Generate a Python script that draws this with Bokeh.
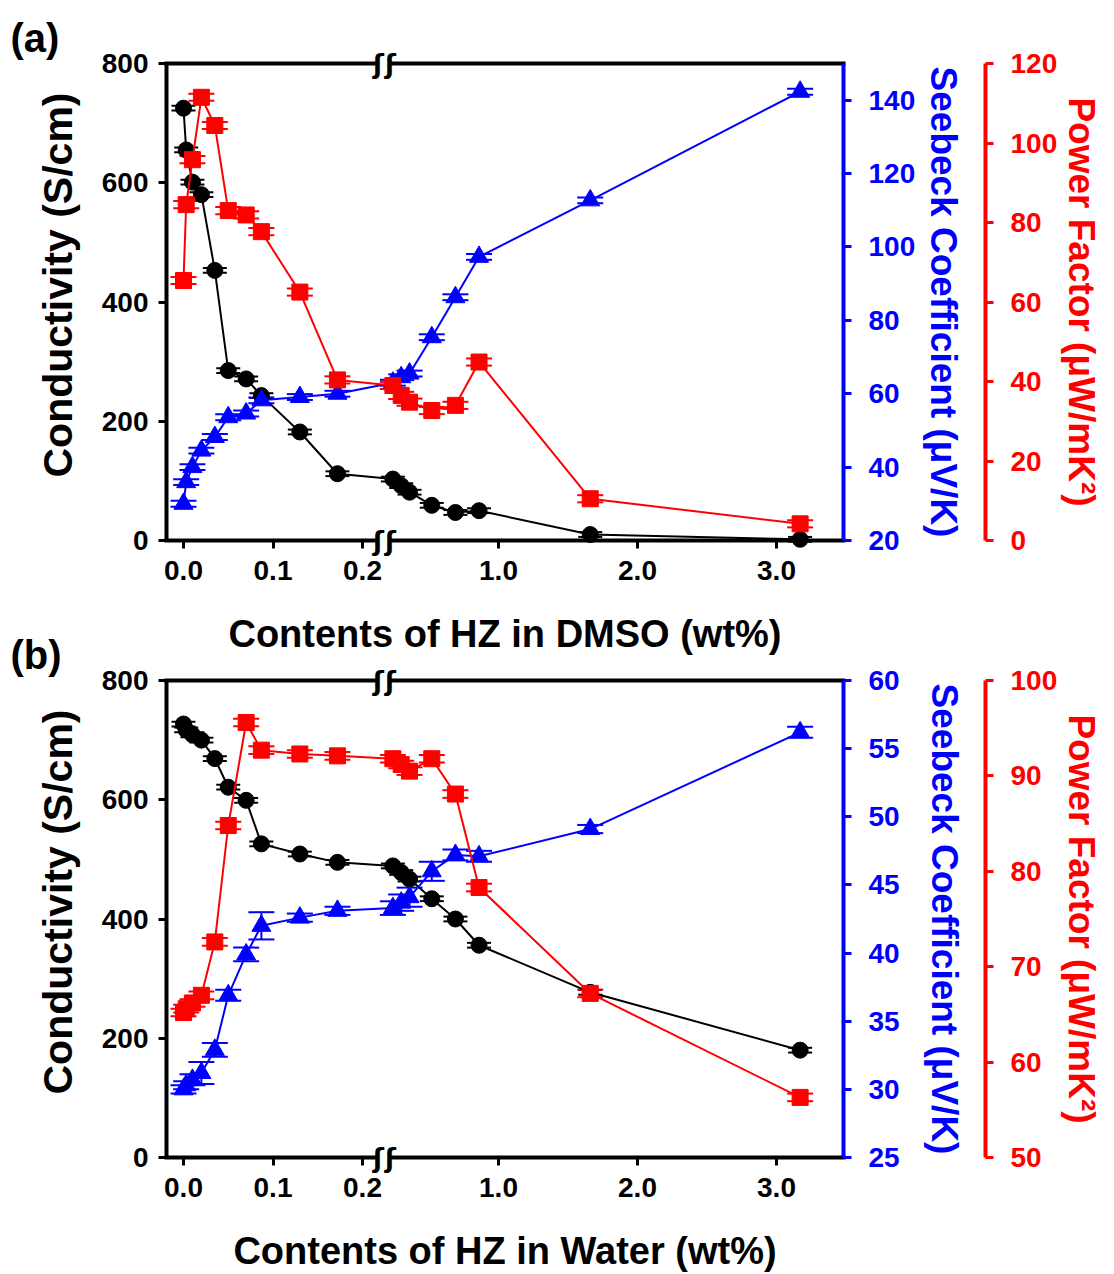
from bokeh.plotting import figure
from bokeh.models import (LinearAxis, Range1d, FixedTicker, Whisker, ColumnDataSource,
                          TeeHead, Label)
from bokeh.layouts import column
from bokeh.embed import file_html
from bokeh.resources import INLINE

# ---------------- data (wt% of HZ) ----------------
X_WT = [0.0, 0.003, 0.01, 0.02, 0.035, 0.05, 0.07, 0.087, 0.13, 0.172,
        0.24, 0.30, 0.36, 0.52, 0.69, 0.86, 1.66, 3.17]

# (a) HZ in DMSO
COND_A = [725, 655, 601, 580, 453, 285, 271, 243, 182, 112,
          103, 92, 81, 59, 47, 50, 10, 2]
SEEB_A = [30.0, 35.9, 40.0, 44.5, 48.2, 53.6, 54.6, 58.2, 59.1, 60.0,
          63.0, 64.5, 65.5, 75.4, 86.3, 97.3, 112.7, 142.3]
PF_A = [65.4, 84.5, 95.8, 111.5, 104.4, 83.0, 81.9, 77.7, 62.5, 40.4,
        39.0, 36.5, 34.8, 32.7, 34.0, 44.9, 10.5, 4.2]
COND_A_ERR = [4] * 18
SEEB_A_ERR = [0.8] * 18
PF_A_ERR = [0.9] * 18

# (b) HZ in water
COND_B = [727, 717, 709, 700, 669, 621, 599, 526, 509, 495,
          489, 478, 467, 434, 400, 356, 277, 180]
SEEB_B = [30.0, 30.3, 30.7, 31.2, 32.9, 36.9, 39.9, 42.0, 42.6, 43.1,
          43.3, 43.7, 44.1, 46.0, 47.2, 47.1, 49.1, 56.2]
PF_B = [65.2, 65.6, 66.2, 67.0, 72.6, 84.8, 95.6, 92.7, 92.3, 92.1,
        91.8, 91.2, 90.5, 91.8, 88.1, 78.3, 67.2, 56.3]
COND_B_ERR = [4] * 18
SEEB_B_ERR = [0.3, 0.3, 0.4, 0.8, 0.5, 0.4, 0.5, 1.0, 0.3, 0.3,
              0.5, 0.6, 0.7, 0.7, 0.4, 0.4, 0.3, 0.4]
PF_B_ERR = [0.4] * 18

COND_RANGE = (0, 800)
COND_TICKS = [0, 200, 400, 600, 800]
X_TICK_VALUES = [0.0, 0.1, 0.2, 1.0, 2.0, 3.0]
X_TICK_LABELS = ["0.0", "0.1", "0.2", "1.0", "2.0", "3.0"]

# ---------------- layout (pixels) ----------------
W = 1114
BOX_L, BOX_R, RED_AXIS_X = 166, 843, 985
BOX_H = 477
PX_PER_U = 895.0
U0_PX = 183.0                       # pixel of 0.0 wt%
COND_TITLE_SHIFT_PX = 17            # y title sits a bit above centre


def px_u(px):
    return (px - U0_PX) / PX_PER_U


U_MIN, U_MAX = px_u(BOX_L), px_u(BOX_R)
U_BRK_L, U_BRK_R = px_u(378), px_u(390)
U_PAD = px_u(2) - px_u(0)

# broken x axis: right segment scale
SEG_SPLIT = 0.2
RIGHT_U_AT_1 = px_u(498)
RIGHT_SLOPE = 139.0 / PX_PER_U


def bx(x):
    if x <= SEG_SPLIT:
        return x
    return RIGHT_U_AT_1 + RIGHT_SLOPE * (x - 1.0)


FONT = "Liberation Sans"
TICK_FS = "28px"
BLUE = "#0000FF"
RED = "#FF0000"


def ext_range(lo, hi, top_px, bot_px):
    per = (hi - lo) / BOX_H
    return Range1d(lo - bot_px * per, hi + top_px * per)


def style_axis(ax, color, title_fs="37px"):
    ax.axis_line_color = color
    ax.axis_line_width = 4
    ax.major_tick_line_color = color
    ax.major_tick_line_width = 3
    ax.major_tick_in = 0
    ax.major_tick_out = 8
    ax.minor_tick_line_color = None
    ax.major_label_text_color = color
    ax.major_label_text_font = FONT
    ax.major_label_text_font_style = "bold"
    ax.major_label_text_font_size = TICK_FS
    ax.axis_label_text_color = color
    ax.axis_label_text_font = FONT
    ax.axis_label_text_font_style = "bold"
    ax.axis_label_text_font_size = title_fs


def bare_axis(yloc, bounds):
    ax = LinearAxis(fixed_location=yloc, bounds=bounds,
                    ticker=FixedTicker(ticks=[]))
    ax.axis_line_color = "black"
    ax.axis_line_width = 4
    ax.major_tick_line_color = None
    ax.minor_tick_line_color = None
    ax.major_label_text_font_size = "0px"
    return ax


def panel(tag, xtitle, cond, seeb, pf, cerr, serr, perr,
          s_range, s_ticks, s_title_standoff, p_range, p_ticks,
          height, top, margin, bg):
    bot = height - top - BOX_H
    p = figure(width=W, height=height,
               x_range=Range1d(px_u(0), px_u(W)),
               y_range=ext_range(*COND_RANGE, top, bot),
               output_backend="svg", toolbar_location=None,
               x_axis_location=None, y_axis_location=None, title=None,
               min_border=0, min_border_left=0, min_border_right=0,
               min_border_top=0, min_border_bottom=0, margin=margin)
    p.grid.visible = False
    p.outline_line_color = None
    p.background_fill_color = bg
    p.border_fill_color = None
    p.extra_y_ranges = {"see": ext_range(*s_range, top, bot),
                        "pf": ext_range(*p_range, top, bot)}

    # bottom axis: ticks, labels and title
    xa = LinearAxis(fixed_location=COND_RANGE[0], bounds=(U_MIN, U_MAX),
                    ticker=FixedTicker(ticks=[bx(v) for v in X_TICK_VALUES]))
    style_axis(xa, "black", "38px")
    xa.axis_line_color = None
    xa.major_label_overrides = {bx(v): t for v, t in zip(X_TICK_VALUES, X_TICK_LABELS)}
    xa.axis_label = xtitle
    xa.major_label_standoff = 12
    xa.axis_label_standoff = 30
    p.add_layout(xa, "below")

    # broken frame lines (bottom and top)
    p.add_layout(bare_axis(COND_RANGE[0], (U_MIN - U_PAD, U_BRK_L)), "below")
    p.add_layout(bare_axis(COND_RANGE[0], (U_BRK_R, U_MAX + U_PAD)), "below")
    p.add_layout(bare_axis(COND_RANGE[1], (U_MIN - U_PAD, U_BRK_L)), "above")
    p.add_layout(bare_axis(COND_RANGE[1], (U_BRK_R, U_MAX + U_PAD)), "above")
    for yy in COND_RANGE:
        for xx in (U_BRK_L, U_BRK_R):
            p.add_layout(Label(x=xx, y=yy, text="ʃ", text_align="center",
                               text_baseline="middle", text_font="DejaVu Sans",
                               text_font_style="bold", text_font_size="26px",
                               text_color="black"))

    # left axis (line, ticks, labels)
    ya = LinearAxis(fixed_location=U_MIN, bounds=COND_RANGE,
                    ticker=FixedTicker(ticks=COND_TICKS))
    style_axis(ya, "black")
    ya.major_label_standoff = 10
    p.add_layout(ya, "left")

    # left axis title (placed slightly above the frame centre)
    shift = COND_TITLE_SHIFT_PX * (COND_RANGE[1] - COND_RANGE[0]) / BOX_H
    yt = LinearAxis(fixed_location=U_MIN, bounds=(COND_RANGE[0] + shift, COND_RANGE[1] + shift),
                    ticker=FixedTicker(ticks=[]), axis_label="Conductivity (S/cm)")
    style_axis(yt, "black", "41px")
    yt.axis_line_color = None
    yt.major_tick_out = 0
    yt.major_label_standoff = 0
    yt.major_label_text_font_size = "0px"
    yt.axis_label_standoff = 86
    p.add_layout(yt, "left")

    # Seebeck axis
    ba = LinearAxis(fixed_location=U_MAX, y_range_name="see", bounds=s_range,
                    ticker=FixedTicker(ticks=s_ticks),
                    axis_label="Seebeck Coefficient (μV/K)")
    style_axis(ba, BLUE)
    ba.major_label_standoff = 17
    ba.axis_label_standoff = s_title_standoff
    p.add_layout(ba, "right")

    # power factor axis
    ra = LinearAxis(fixed_location=px_u(RED_AXIS_X), y_range_name="pf", bounds=p_range,
                    ticker=FixedTicker(ticks=p_ticks),
                    axis_label="Power Factor (μW/mK²)")
    style_axis(ra, RED)
    ra.major_label_standoff = 17
    ra.axis_label_standoff = 1
    p.add_layout(ra, "right")

    # panel tag
    p.add_layout(Label(x=px_u(10), y=COND_RANGE[1] + 26 * (COND_RANGE[1] - COND_RANGE[0]) / BOX_H,
                       text=tag, text_align="left", text_baseline="middle",
                       text_font=FONT, text_font_style="bold",
                       text_font_size="40px", text_color="black"))

    ux = [bx(v) for v in X_WT]
    src = ColumnDataSource(dict(
        x=ux, c=cond, s=seeb, f=pf,
        c_lo=[a - b for a, b in zip(cond, cerr)], c_hi=[a + b for a, b in zip(cond, cerr)],
        s_lo=[a - b for a, b in zip(seeb, serr)], s_hi=[a + b for a, b in zip(seeb, serr)],
        f_lo=[a - b for a, b in zip(pf, perr)], f_hi=[a + b for a, b in zip(pf, perr)],
    ))

    def whisk(lo, hi, color, rng=None, w=26):
        kw = {} if rng is None else {"y_range_name": rng}
        return Whisker(source=src, base="x", lower=lo, upper=hi,
                       line_color=color, line_width=2,
                       lower_head=TeeHead(size=w, line_color=color, line_width=2),
                       upper_head=TeeHead(size=w, line_color=color, line_width=2), **kw)

    # conductivity
    p.line("x", "c", source=src, color="black", line_width=2)
    p.scatter("x", "c", source=src, marker="circle", size=16, color="black")
    p.add_layout(whisk("c_lo", "c_hi", "black", None, 24))
    # seebeck
    p.line("x", "s", source=src, color=BLUE, line_width=2, y_range_name="see")
    p.scatter("x", "s", source=src, marker="triangle", size=19, color=BLUE,
              y_range_name="see")
    p.add_layout(whisk("s_lo", "s_hi", BLUE, "see"))
    # power factor
    p.line("x", "f", source=src, color=RED, line_width=2, y_range_name="pf")
    p.scatter("x", "f", source=src, marker="square", size=16, color=RED,
              y_range_name="pf")
    p.add_layout(whisk("f_lo", "f_hi", RED, "pf"))
    return p


pa = panel("(a)", "Contents of HZ in DMSO (wt%)", COND_A, SEEB_A, PF_A,
           COND_A_ERR, SEEB_A_ERR, PF_A_ERR,
           (20, 150), [20, 40, 60, 80, 100, 120, 140], 5,
           (0, 120), [0, 20, 40, 60, 80, 100, 120],
           660, 63, (0, 0, 0, 0), "white")
pb = panel("(b)", "Contents of HZ in Water (wt%)", COND_B, SEEB_B, PF_B,
           COND_B_ERR, SEEB_B_ERR, PF_B_ERR,
           (25, 60), [25, 30, 35, 40, 45, 50, 55, 60], 21,
           (50, 100), [50, 60, 70, 80, 90, 100],
           654, 60, (-40, 0, 0, 0), None)

layout = column(pa, pb, spacing=0)
open("out.html", "w").write(file_html(layout, INLINE))
